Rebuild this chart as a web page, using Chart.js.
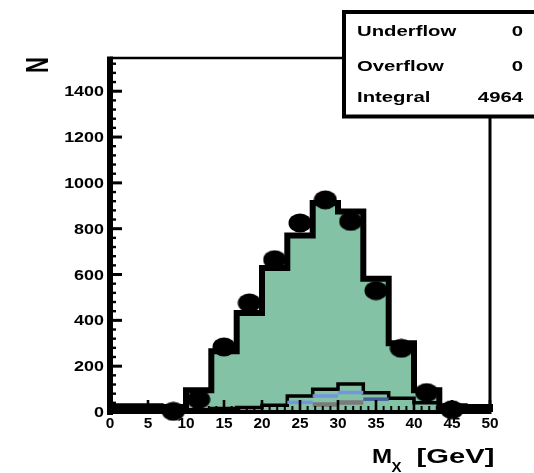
<!DOCTYPE html>
<html>
<head>
<meta charset="utf-8">
<script src="https://cdn.jsdelivr.net/npm/chart.js@4.4.1/dist/chart.umd.min.js"></script>
<style>
  html, body { margin: 0; padding: 0; background: #fff; }
  canvas { display: block; }
</style>
</head>
<body>
<canvas id="mxChart" width="534" height="473"></canvas>
<script>
// Bin edges of the M_X histogram (15 bins between 0 and 50 GeV)
const binEdges = [0, 3.33, 6.67, 10, 13.33, 16.67, 20, 23.33, 26.67, 30, 33.33, 36.67, 40, 43.33, 46.67, 50];
// Summed MC, green filled histogram
const mcTotal = [25, 25, 22, 95, 265, 432, 628, 770, 912, 875, 582, 300, 95, 25, 22];
// Small background histograms
const bkgOutline = [6, 6, 6, 10, 15, 20, 30, 70, 99, 122, 84, 60, 40, 15, 10];
const bkgBlue = [null, null, null, null, null, null, null, 42, 70, 85, 56, null, null, null, null];
const bkgGray = [null, null, null, null, null, null, null, null, 33, 41, null, null, null, null, null];
// Data (black points), null = empty bin
const dataCounts = [null, null, 3, 55, 284, 476, 665, 825, 926, 832, 530, 278, 85, 10, null];
// Tick labels
const yTickLabels = [0, 200, 400, 600, 800, 1000, 1200, 1400];
const xTickLabels = [0, 5, 10, 15, 20, 25, 30, 35, 40, 45, 50];
// Stats box
const statsNames = ["Underflow", "Overflow", "Integral"];
const statsValues = ["0", "0", "4964"];

const FONT = '"Liberation Sans", Arial, sans-serif';

// step outline of a histogram (closed down to zero at both ends)
function stepPoints(values) {
  const pts = [{ x: binEdges[0], y: 0 }];
  values.forEach((v, i) => pts.push({ x: binEdges[i], y: v }));
  pts.push({ x: binEdges[binEdges.length - 1], y: 0 });
  return pts;
}

// horizontal bars only (one segment per filled bin)
function levelPoints(values) {
  const pts = [];
  values.forEach((v, i) => {
    if (v === null) return;
    pts.push({ x: binEdges[i], y: v }, { x: binEdges[i + 1], y: v }, { x: binEdges[i + 1], y: null });
  });
  return pts;
}

function binCenters(values) {
  return values.map((v, i) => ({ x: (binEdges[i] + binEdges[i + 1]) / 2, y: v }));
}

// slightly wide blob, like the markers in the picture
const marker = document.createElement("canvas");
marker.width = 24;
marker.height = 20;
(function () {
  const m = marker.getContext("2d");
  m.fillStyle = "#000";
  m.beginPath();
  m.ellipse(12, 10, 11.5, 9.5, 0, 0, Math.PI * 2);
  m.fill();
})();

function stretchText(ctx, text, x, y, sx, align) {
  ctx.save();
  ctx.translate(x, y);
  ctx.scale(sx, 1);
  ctx.textAlign = align;
  ctx.fillText(text, 0, 0);
  ctx.restore();
}

const rootStyle = {
  id: "rootStyle",
  afterDraw(chart) {
    const ctx = chart.ctx;
    const { left, right, top, bottom } = chart.chartArea;
    const xs = chart.scales.x;
    const ys = chart.scales.y;
    ctx.save();
    ctx.strokeStyle = "#000";
    ctx.fillStyle = "#000";
    ctx.lineCap = "butt";

    const line = (x1, y1, x2, y2, w) => {
      ctx.lineWidth = w;
      ctx.beginPath();
      ctx.moveTo(x1, y1);
      ctx.lineTo(x2, y2);
      ctx.stroke();
    };

    // frame
    line(left, top, right, top, 2.5);
    line(right, top, right, bottom, 3);
    line(left, top - 1.5, left, bottom + 3, 6);
    line(left - 3, bottom, right + 1.5, bottom, 4);

    // y ticks, pointing inwards
    for (let v = 0; v <= ys.max; v += 40) {
      const py = ys.getPixelForValue(v);
      const major = v % 200 === 0;
      line(left, py, left + (major ? 12 : 6), py, major ? 3 : 2.4);
    }
    // x ticks
    for (let v = 0; v <= xs.max; v += 1) {
      const px = xs.getPixelForValue(v);
      const major = v % 5 === 0;
      line(px, bottom, px, bottom - (major ? 12 : 6), major ? 2.6 : 2);
    }

    // tick labels
    ctx.font = "bold 14px " + FONT;
    ctx.textBaseline = "alphabetic";
    yTickLabels.forEach(v => {
      stretchText(ctx, String(v), 104, ys.getPixelForValue(v) + 5, 1.28, "right");
    });
    xTickLabels.forEach(v => {
      stretchText(ctx, String(v), xs.getPixelForValue(v), 428, 1.1, "center");
    });

    // y title "N"
    ctx.save();
    ctx.translate(36.7, 65);
    ctx.rotate(-Math.PI / 2);
    ctx.scale(1, 1.45);
    ctx.font = "bold 22px " + FONT;
    ctx.textAlign = "center";
    ctx.fillText("N", 0, 7.9);
    ctx.restore();

    // x title "M_X [GeV]"
    ctx.font = "bold 21px " + FONT;
    stretchText(ctx, "M", 372, 463, 1.15, "left");
    ctx.font = "bold 15px " + FONT;
    stretchText(ctx, "X", 391.5, 471.5, 1.0, "left");
    ctx.font = "bold 21px " + FONT;
    stretchText(ctx, "[GeV]", 416.5, 463, 1.39, "left");

    // stats box
    ctx.fillStyle = "#fff";
    ctx.fillRect(344, 12, 200, 104.5);
    ctx.lineWidth = 4;
    ctx.strokeRect(344, 12, 200, 104.5);
    ctx.fillStyle = "#000";
    ctx.font = "bold 14px " + FONT;
    const rowBase = [36, 70.5, 102];
    statsNames.forEach((name, i) => {
      stretchText(ctx, name, 357, rowBase[i], 1.45, "left");
      stretchText(ctx, statsValues[i], 523, rowBase[i], 1.45, "right");
    });
    ctx.restore();
  }
};

new Chart(document.getElementById("mxChart"), {
  type: "line",
  data: {
    datasets: [
      {
        label: "Data",
        data: binCenters(dataCounts),
        showLine: false,
        pointStyle: marker,
        pointRadius: 10,
        clip: false
      },
      {
        label: "bkg gray",
        data: levelPoints(bkgGray),
        borderColor: "#7a7a7a",
        borderWidth: 4.5,
        pointRadius: 0,
        spanGaps: false
      },
      {
        label: "bkg blue",
        data: levelPoints(bkgBlue),
        borderColor: "#7396dc",
        borderWidth: 3.5,
        pointRadius: 0,
        spanGaps: false,
        segment: {
          borderColor: c => (c.p0.parsed.x > 33 ? "#44609c" : undefined)
        }
      },
      {
        label: "bkg outline",
        data: stepPoints(bkgOutline),
        stepped: true,
        borderColor: "#000",
        borderWidth: 3.5,
        pointRadius: 0,
        fill: false,
        clip: false
      },
      {
        label: "MC total",
        data: stepPoints(mcTotal),
        stepped: true,
        borderColor: "#000",
        borderWidth: 6,
        backgroundColor: "#84c2a6",
        pointRadius: 0,
        fill: "origin",
        clip: false
      }
    ]
  },
  options: {
    responsive: false,
    animation: false,
    layout: { padding: { left: 0, top: 58, right: 44, bottom: 0 } },
    plugins: {
      legend: { display: false },
      tooltip: { enabled: false }
    },
    scales: {
      x: {
        type: "linear",
        min: 0,
        max: 50,
        grid: { display: false },
        border: { display: false },
        ticks: { display: false },
        afterFit: s => { s.height = 61; }
      },
      y: {
        type: "linear",
        min: 0,
        max: 1545,
        grid: { display: false },
        border: { display: false },
        ticks: { display: false },
        afterFit: s => { s.width = 110; }
      }
    }
  },
  plugins: [rootStyle]
});
</script>
</body>
</html>
